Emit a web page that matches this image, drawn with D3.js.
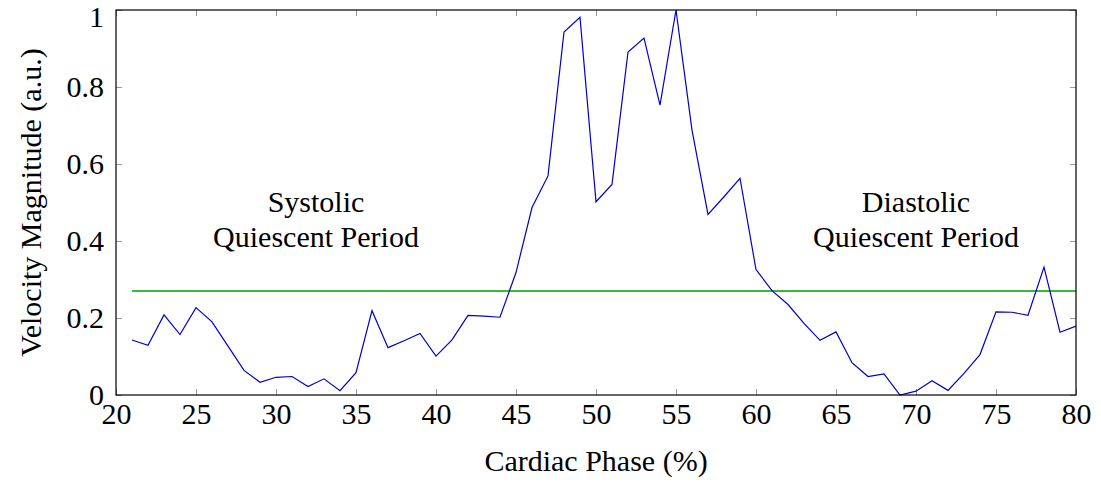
<!DOCTYPE html>
<html>
<head>
<meta charset="utf-8">
<script src="https://cdn.jsdelivr.net/npm/d3@7/dist/d3.min.js"></script>
<style>
  body { margin: 0; background: #fff; }
  text { font-family: "Liberation Serif", "DejaVu Serif", serif; fill: #000; }
  .tick line { stroke: #999; }
  .domain { display: none; }
</style>
</head>
<body>
<div id="chart"></div>
<script>
// cardiac phase (%) and velocity magnitude (a.u.)
var phase = [21,22,23,24,25,26,27,28,29,30,31,32,33,34,35,36,37,38,39,40,
             41,42,43,44,45,46,47,48,49,50,51,52,53,54,55,56,57,58,59,60,
             61,62,63,64,65,66,67,68,69,70,71,72,73,74,75,76,77,78,79,80];
var velocity = [0.143,0.129,0.208,0.157,0.227,0.190,0.127,0.064,0.033,0.046,
                0.048,0.022,0.042,0.011,0.058,0.219,0.123,0.141,0.160,0.101,
                0.143,0.207,0.205,0.202,0.318,0.487,0.569,0.943,0.981,0.502,
                0.547,0.891,0.927,0.753,1.000,0.688,0.469,0.515,0.563,0.326,
                0.271,0.235,0.186,0.142,0.164,0.084,0.048,0.055,0.000,0.010,
                0.037,0.012,0.056,0.105,0.216,0.215,0.207,0.332,0.163,0.179];
var threshold = 0.27;
var xTicks = [20,25,30,35,40,45,50,55,60,65,70,75,80];
var yTicks = [0,0.2,0.4,0.6,0.8,1];
var notes = [
  {x: 32.5, y: 0.5, lines: ["Systolic", "Quiescent Period"]},
  {x: 70, y: 0.5, lines: ["Diastolic", "Quiescent Period"]}
];

var width = 1101, height = 482;
var margin = {top: 10, right: 25, bottom: 87, left: 116};
var w = width - margin.left - margin.right,
    h = height - margin.top - margin.bottom;
var fs = 30;

var svg = d3.select("#chart").append("svg")
    .attr("width", width)
    .attr("height", height);
var g = svg.append("g")
    .attr("transform", "translate(" + margin.left + "," + margin.top + ")");

var x = d3.scaleLinear().domain([20, 80]).range([0, w]);
var y = d3.scaleLinear().domain([0, 1]).range([h, 0]);

var fmt = function(d) { return d === 0 || d === 1 ? d : d3.format(".1f")(d); };

// inner ticks on all four sides
g.append("g").attr("transform", "translate(0," + h + ")")
    .call(d3.axisBottom(x).tickValues(xTicks).tickSizeInner(-6).tickSizeOuter(0).tickPadding(10))
    .selectAll("text").attr("font-size", fs).attr("dy", "0.62em");
g.append("g")
    .call(d3.axisTop(x).tickValues(xTicks).tickSizeInner(-6).tickSizeOuter(0).tickFormat(""));
var yAxis = g.append("g")
    .call(d3.axisLeft(y).tickValues(yTicks).tickSizeInner(-6).tickSizeOuter(0).tickPadding(12).tickFormat(fmt));
yAxis.selectAll("text").attr("font-size", fs);
// keep the top label inside the page
yAxis.selectAll(".tick").filter(function(d) { return d === 1; })
    .select("text").attr("dy", "0.55em");
g.append("g").attr("transform", "translate(" + w + ",0)")
    .call(d3.axisRight(y).tickValues(yTicks).tickSizeInner(-6).tickSizeOuter(0).tickFormat(""));

// threshold line
g.append("line")
    .attr("x1", x(phase[0])).attr("x2", x(phase[phase.length - 1]))
    .attr("y1", y(threshold)).attr("y2", y(threshold))
    .attr("stroke", "#3cb83c").attr("stroke-width", 2);

// velocity curve
var line = d3.line()
    .x(function(d, i) { return x(phase[i]); })
    .y(function(d) { return y(d); });
g.append("path")
    .datum(velocity)
    .attr("d", line)
    .attr("fill", "none")
    .attr("stroke", "#0000cc")
    .attr("stroke-width", 1.2);

// frame
g.append("rect")
    .attr("width", w).attr("height", h)
    .attr("fill", "none").attr("stroke", "#000").attr("stroke-width", 1.2);

// annotations
notes.forEach(function(n) {
  var t = g.append("text")
      .attr("text-anchor", "middle")
      .attr("font-size", fs)
      .attr("x", x(n.x)).attr("y", y(n.y));
  n.lines.forEach(function(s, i) {
    t.append("tspan").attr("x", x(n.x)).attr("dy", i === 0 ? "0.32em" : "1.15em").text(s);
  });
});

// axis labels
svg.append("text")
    .attr("text-anchor", "middle")
    .attr("font-size", fs)
    .attr("x", margin.left + w / 2).attr("y", 471)
    .text("Cardiac Phase (%)");
svg.append("text")
    .attr("text-anchor", "middle")
    .attr("font-size", fs)
    .attr("transform", "translate(41," + (margin.top + h / 2) + ") rotate(-90)")
    .text("Velocity Magnitude (a.u.)");
</script>
</body>
</html>
